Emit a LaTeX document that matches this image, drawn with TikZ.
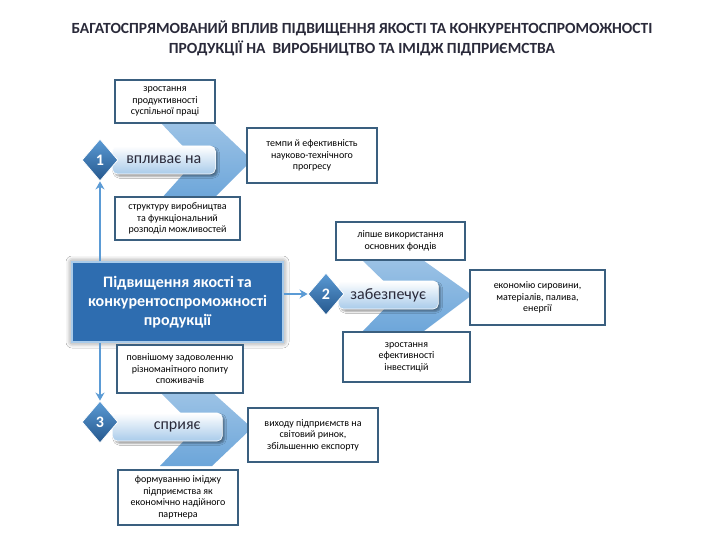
\documentclass[tikz,border=0pt]{standalone}
\usepackage{fontspec}
\setmainfont{Carlito}
\usetikzlibrary{shapes.geometric,arrows.meta,shadows.blur}
\definecolor{dblue}{HTML}{2E6DB0}
\definecolor{mblue}{HTML}{5B9BD5}
\definecolor{lblue}{HTML}{A9CBEA}
\definecolor{bord}{HTML}{3A5F7F}
\definecolor{titlec}{HTML}{2A2A3A}
\tikzset{
 wbox/.style={draw=bord,line width=1.2pt,fill=white,align=center,font=\fontsize{10}{11.5}\selectfont,inner sep=1pt},
 pill/.style={rounded corners=5pt,draw=white,line width=0.6pt,top color=white,bottom color=lblue,font=\fontsize{16}{18}\selectfont,text=titlec,anchor=west,inner xsep=8pt,minimum height=28pt,blur shadow},
 dia/.style={diamond,top color=mblue,bottom color=dblue!80!black,draw=white,line width=0.8pt,minimum width=36pt,minimum height=42pt,inner sep=0pt,font=\bfseries\fontsize{16}{17}\selectfont,text=white},
 chev/.style={top color=mblue!60,bottom color=mblue!90,draw=none},
 conn/.style={mblue,line width=2.2pt,-{Stealth[length=8pt,width=9pt]}}
}
\begin{document}
\begin{tikzpicture}[x=1pt,y=-1pt]
\fill[white] (0,0) rectangle (720,540);
\useasboundingbox (0,0) rectangle (720,540);
\node[font=\bfseries\fontsize{15.5}{20}\selectfont,text=titlec,align=center] (title) at (362,38) {БАГАТОСПРЯМОВАНИЙ ВПЛИВ ПІДВИЩЕННЯ ЯКОСТІ ТА КОНКУРЕНТОСПРОМОЖНОСТІ\\ПРОДУКЦІЇ НА ~ВИРОБНИЦТВО ТА ІМІДЖ ПІДПРИЄМСТВА};
% chevrons
\path[chev] (160,122)--(212,122)--(252,160)--(212,200)--(160,200)--(196,160)--cycle;
\path[chev] (360,258)--(420,258)--(472,295)--(420,334)--(360,334)--(398,295)--cycle;
\path[chev] (160,392)--(212,392)--(252,428)--(212,466)--(160,466)--(196,428)--cycle;
% main box
\node[draw=lblue,line width=1.5pt,fill=dblue,text=white,font=\bfseries\fontsize{16}{19}\selectfont,align=center,minimum width=211pt,minimum height=80pt,blur shadow={shadow blur radius=6pt,shadow opacity=60,shadow xshift=0pt,shadow yshift=0pt}] (main) at (177.5,302) {Підвищення якості та\\конкурентоспроможності\\продукції};
% group 1
\node[pill,minimum width=103pt] (p1) at (112,160) {впливає на};
\node[dia] (d1) at (100,160) {1};
\node[wbox,minimum width=100pt,minimum height=43pt] (b1t) at (165,101.5) {зростання\\продуктивності\\суспільної праці};
\node[wbox,minimum width=130pt,minimum height=55pt] (b1r) at (312,155.5) {темпи й ефективність\\науково-технічного\\прогресу};
\node[wbox,minimum width=125pt,minimum height=43pt] (b1b) at (177.5,218.5) {структуру виробництва\\та функціональний\\розподіл можливостей};
% group 2
\node[pill,minimum width=100pt] (p2) at (338,295) {забезпечує};
\node[dia] (d2) at (326,294) {2};
\node[wbox,minimum width=129pt,minimum height=38pt] (b2t) at (400.5,241) {ліпше використання\\основних фондів};
\node[wbox,minimum width=135pt,minimum height=55pt] (b2r) at (537.5,297.5) {економію сировини,\\матеріалів, палива,\\енергії};
\node[wbox,minimum width=127pt,minimum height=50pt] (b2b) at (406.5,357) {зростання\\ефективності\\інвестицій};
% group 3
\node[pill,minimum width=110pt] (p3) at (112,427) {\hspace{20pt}сприяє};
\node[dia] (d3) at (100,422) {3};
\node[wbox,minimum width=126pt,minimum height=48pt] (b3t) at (180,369) {повнішому задоволенню\\різноманітного попиту\\споживачів};
\node[wbox,minimum width=130pt,minimum height=54pt] (b3r) at (313,435) {виходу підприємств на\\світовий ринок,\\збільшенню експорту};
\node[wbox,minimum width=120pt,minimum height=55pt] (b3b) at (178,497.5) {формуванню іміджу\\підприємства як\\економічно надійного\\партнера};
% connectors
\draw[conn] (main.east |- d2) -- (d2.west);
\draw[conn] (main.north west -| d1) -- (d1.south);
\draw[conn] (main.south west -| d3) -- (d3.north);
\end{tikzpicture}
\end{document}
